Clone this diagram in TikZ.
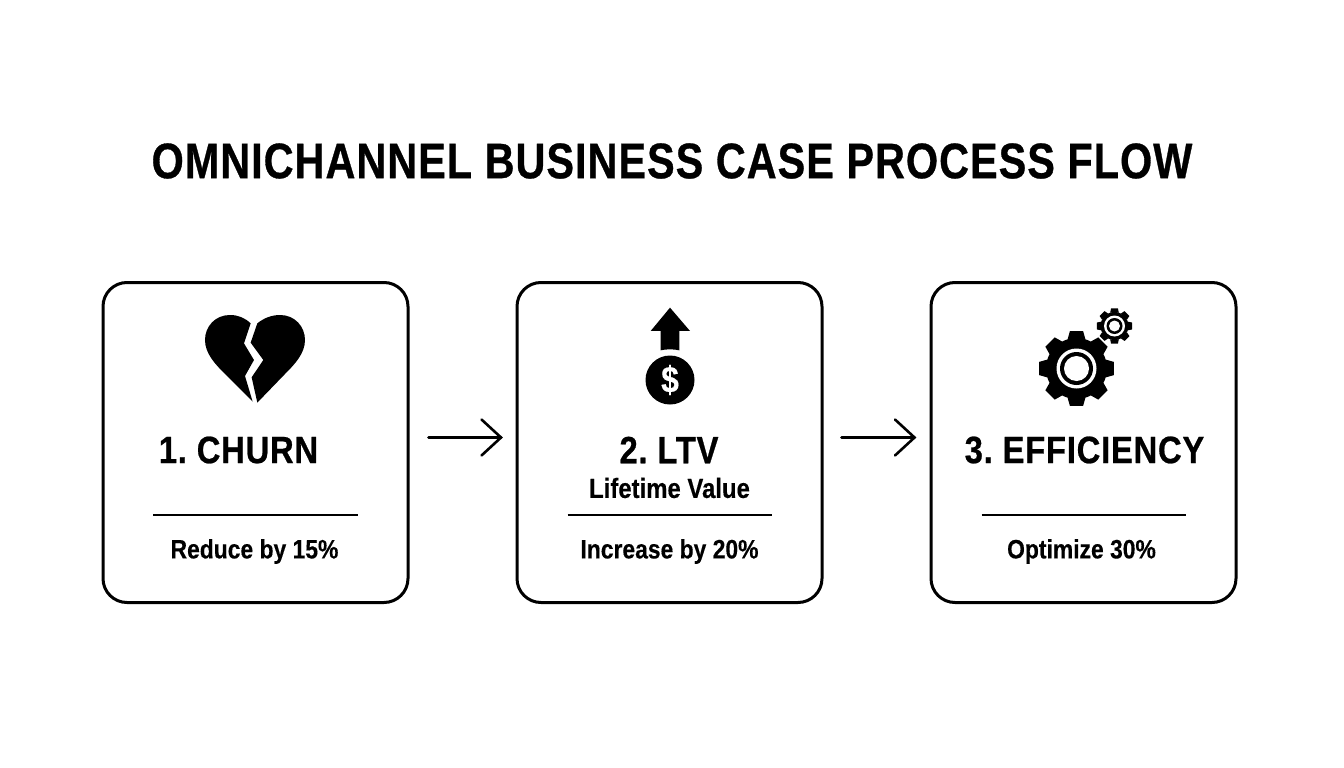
\documentclass[tikz,border=0pt]{standalone}
\usepackage{fontspec}
\setmainfont{Liberation Sans}
\newfontfamily\titlefont{Liberation Sans Bold}[FakeStretch=0.83,FakeBold=0.6,LetterSpace=2]
\newfontfamily\headfont{Liberation Sans Bold}[FakeStretch=0.86,FakeBold=0.6,LetterSpace=2]
\newfontfamily\subfont{Liberation Sans Bold}[FakeStretch=0.86,FakeBold=0.3]
\newcommand{\gearpath}[3]{% root radius, outer radius, half-tooth angle
  \foreach \ga in {0,45,...,315}{
    \fill[black] (\ga-#3-7:#1) -- (\ga-#3:#2) -- (\ga+#3:#2) -- (\ga+#3+7:#1) -- cycle;
  }
  \fill[black] (0,0) circle[radius=#1];
}
\tikzset{
  card/.style={draw=black,line width=3pt,rounded corners=24pt,minimum width=305pt,minimum height=320pt,inner sep=0pt},
  flow/.style={draw=black,line width=2.6pt,line cap=round,line join=miter},
  rulel/.style={draw=black,line width=2pt},
  head/.style={font=\headfont\fontsize{38.1}{40}\selectfont,inner sep=0pt,anchor=center},
  sub/.style={font=\subfont\fontsize{26.6}{28}\selectfont,inner sep=0pt,anchor=center},
  subb/.style={font=\subfont\fontsize{27.8}{28}\selectfont,inner sep=0pt,anchor=center},
  ttl/.style={font=\titlefont\fontsize{49.9}{54}\selectfont,inner sep=0pt,anchor=center}
}
\begin{document}
\frenchspacing
\begin{tikzpicture}[x=1pt,y=-1pt]
\useasboundingbox (0,0) rectangle (1344,768);
\fill[white] (0,0) rectangle (1344,768);
\node[ttl] (title) at (672,161) {OMNICHANNEL BUSINESS CASE PROCESS FLOW};
\node[card] (b1) at (255.5,442.5) {};
\node[card] (b2) at (669.5,442.5) {};
\node[card] (b3) at (1083.5,442.5) {};
% connectors
\draw[flow] ([shift={(19,-5)}]b1.east) -- ([shift={(-14.5,-5)}]b2.west);
\draw[flow] ([shift={(-34,-23)}]b2.west) -- ([shift={(-14.5,-5)}]b2.west) -- ([shift={(-34,13)}]b2.west);
\draw[flow] ([shift={(18,-5)}]b2.east) -- ([shift={(-15,-5)}]b3.west);
\draw[flow] ([shift={(-34.5,-23)}]b3.west) -- ([shift={(-15,-5)}]b3.west) -- ([shift={(-34.5,13)}]b3.west);
% heart
\begin{scope}[shift={(180,290)},x=0.3333pt,y=-0.3333pt]
\fill[black] (212,100) .. controls (195,84) and (175,75) .. (150,75)
  .. controls (105,75) and (75,110) .. (75,150)
  .. controls (75,190) and (105,222) .. (135,252)
  -- (218,335) -- (195,258) -- (222,210) -- (192,160) -- cycle;
\fill[black] (232,100) .. controls (252,84) and (275,75) .. (300,75)
  .. controls (345,75) and (375,110) .. (375,150)
  .. controls (375,190) and (345,222) .. (315,252)
  -- (232,338) -- (215,262) -- (250,210) -- (212,158) -- cycle;
\end{scope}
% dollar icon
\begin{scope}[shift={(620,295)},x=0.3333pt,y=-0.3333pt]
\fill[black] (150,38) -- (210,108) -- (178,108) -- (178,166) .. controls (160,162) and (140,162) .. (122,166) -- (122,108) -- (92,108) -- cycle;
\end{scope}
\fill[black] (670,380) circle[radius=24.5];
\node[font=\subfont\fontsize{37}{37}\selectfont,text=white,inner sep=0pt] (dol) at (670,380) {\$};
% gears
\begin{scope}[shift={(1076.5,368.5)}]
\gearpath{30.5}{38}{10}
\fill[white] (0,0) circle[radius=20];
\fill[black] (0,0) circle[radius=16.5];
\fill[white] (0,0) circle[radius=12.5];
\end{scope}
\begin{scope}[shift={(1114.5,326)}]
\gearpath{14}{18}{11}
\fill[white] (0,0) circle[radius=10.5];
\fill[black] (0,0) circle[radius=8];
\fill[white] (0,0) circle[radius=5.5];
\end{scope}
% text
\node[head] (h1) at (238.5,450) {1. CHURN};
\node[head] (h2) at (669,450) {2. LTV};
\node[subb] (lv) at (669.5,488) {Lifetime Value};
\node[head] (h3) at (1084.5,450) {3. EFFICIENCY};
\draw[rulel] ([xshift=-102.5]b1.center |- 0,514.5) -- ([xshift=102]b1.center |- 0,514.5);
\draw[rulel] ([xshift=-102]b2.center |- 0,514.5) -- ([xshift=102]b2.center |- 0,514.5);
\draw[rulel] ([xshift=-102]b3.center |- 0,514.5) -- ([xshift=102]b3.center |- 0,514.5);
\node[sub] (s1) at (254.5,551.5) {Reduce by 15\%};
\node[sub] (s2) at (669.5,551.5) {Increase by 20\%};
\node[sub] (s3) at (1081.5,551.5) {Optimize 30\%};
\end{tikzpicture}
\end{document}
